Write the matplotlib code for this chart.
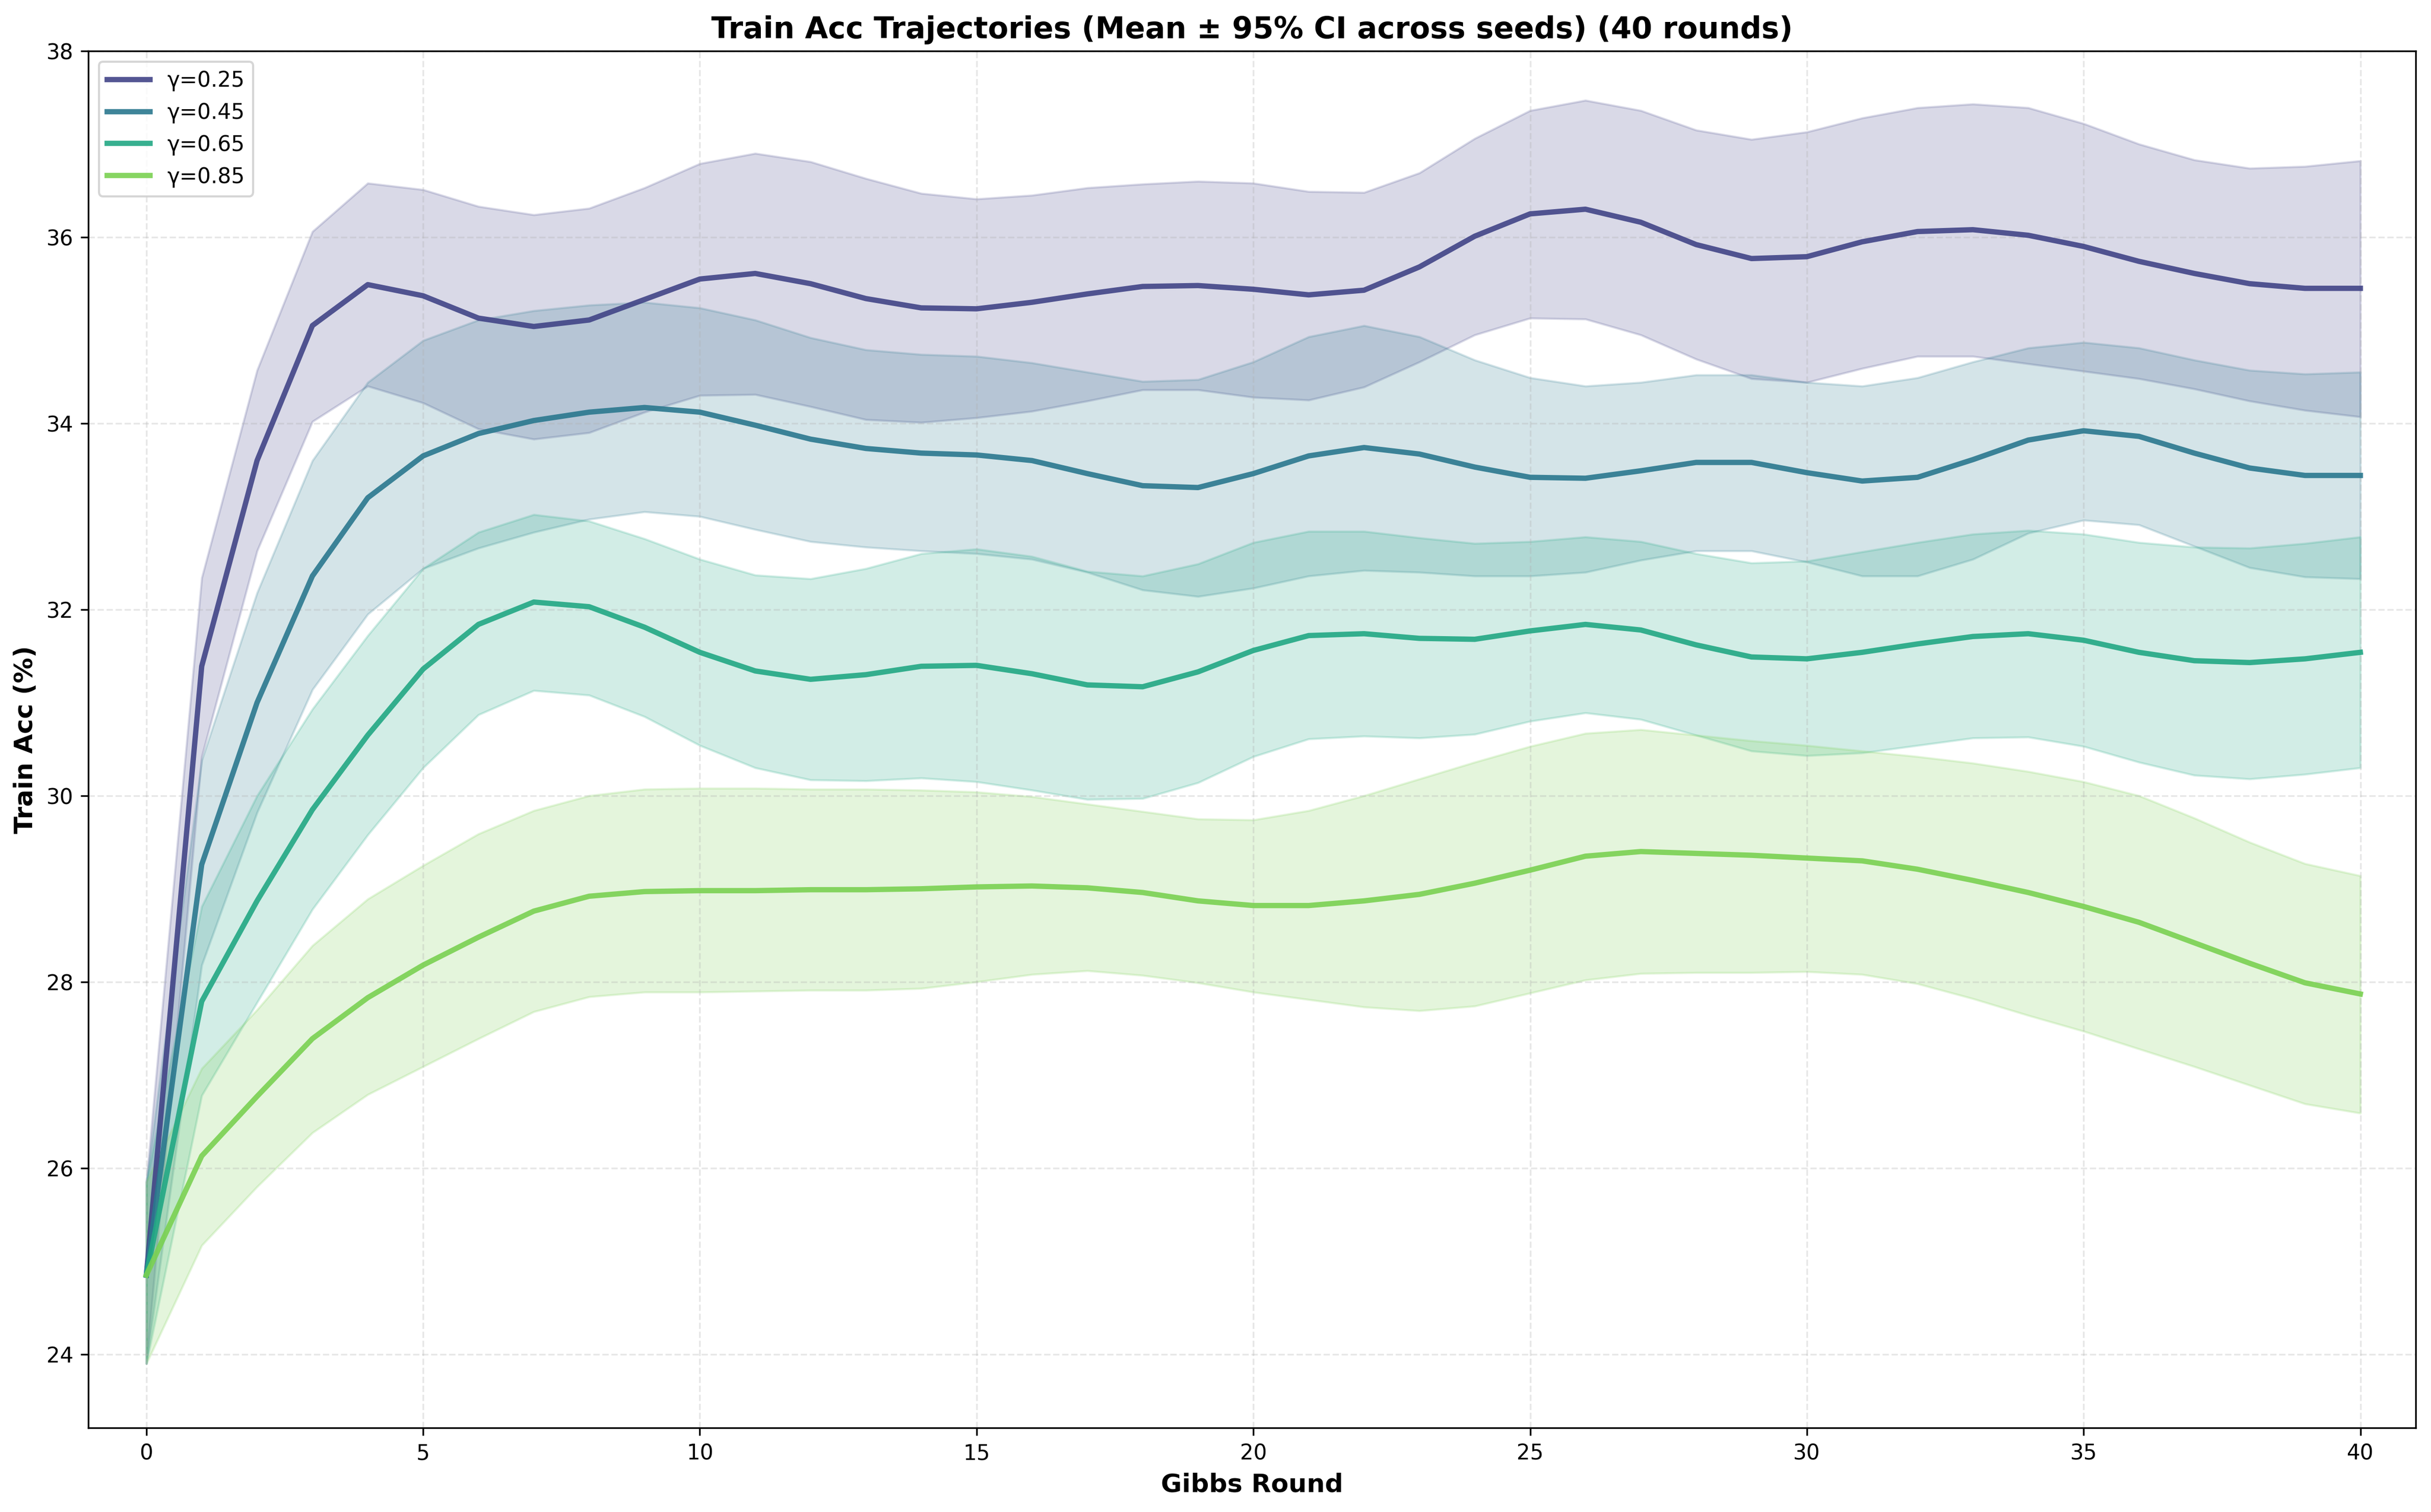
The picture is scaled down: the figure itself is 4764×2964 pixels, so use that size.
import numpy as np
import matplotlib
matplotlib.use("Agg")
import matplotlib.pyplot as plt

rounds = list(range(41))
gammas = ["γ=0.25", "γ=0.45", "γ=0.65", "γ=0.85"]

mean_025 = [24.85, 31.39, 33.60, 35.05, 35.49, 35.37, 35.13, 35.04, 35.11, 35.33,
            35.55, 35.61, 35.50, 35.34, 35.24, 35.23, 35.30, 35.39, 35.47, 35.48,
            35.44, 35.38, 35.43, 35.68, 36.01, 36.25, 36.30, 36.16, 35.92, 35.77,
            35.79, 35.95, 36.06, 36.08, 36.02, 35.90, 35.74, 35.61, 35.50, 35.45, 35.45]
upper_025 = [25.85, 32.34, 34.57, 36.06, 36.58, 36.51, 36.33, 36.24, 36.31, 36.53,
             36.79, 36.90, 36.81, 36.63, 36.47, 36.41, 36.45, 36.53, 36.57, 36.60,
             36.58, 36.49, 36.48, 36.69, 37.06, 37.36, 37.47, 37.36, 37.15, 37.05,
             37.13, 37.28, 37.39, 37.43, 37.39, 37.22, 37.00, 36.83, 36.74, 36.76, 36.82]
lower_025 = [23.90, 30.42, 32.63, 34.02, 34.40, 34.22, 33.94, 33.83, 33.90, 34.12,
             34.30, 34.31, 34.18, 34.04, 34.01, 34.06, 34.13, 34.24, 34.36, 34.36,
             34.28, 34.25, 34.39, 34.66, 34.95, 35.13, 35.12, 34.95, 34.69, 34.48,
             34.44, 34.59, 34.72, 34.72, 34.64, 34.56, 34.48, 34.37, 34.24, 34.14, 34.07]

mean_045 = [24.85, 29.26, 31.00, 32.36, 33.20, 33.65, 33.89, 34.03, 34.12, 34.17,
            34.12, 33.98, 33.83, 33.73, 33.68, 33.66, 33.60, 33.46, 33.33, 33.31,
            33.46, 33.65, 33.74, 33.67, 33.53, 33.42, 33.41, 33.49, 33.58, 33.58,
            33.47, 33.38, 33.42, 33.61, 33.82, 33.92, 33.86, 33.68, 33.52, 33.44, 33.44]
upper_045 = [25.85, 30.38, 32.18, 33.60, 34.44, 34.89, 35.11, 35.21, 35.27, 35.30,
             35.24, 35.11, 34.92, 34.79, 34.74, 34.72, 34.65, 34.55, 34.45, 34.47,
             34.66, 34.93, 35.05, 34.93, 34.68, 34.49, 34.40, 34.44, 34.52, 34.52,
             34.44, 34.40, 34.49, 34.66, 34.81, 34.87, 34.81, 34.68, 34.57, 34.53, 34.55]
lower_045 = [23.90, 28.18, 29.82, 31.14, 31.95, 32.44, 32.66, 32.83, 32.97, 33.05,
             33.00, 32.86, 32.73, 32.67, 32.63, 32.60, 32.54, 32.40, 32.21, 32.14,
             32.23, 32.36, 32.42, 32.40, 32.36, 32.36, 32.40, 32.53, 32.63, 32.63,
             32.51, 32.36, 32.36, 32.54, 32.82, 32.96, 32.91, 32.68, 32.45, 32.35, 32.33]

mean_065 = [24.85, 27.79, 28.87, 29.85, 30.65, 31.36, 31.84, 32.08, 32.03, 31.81,
            31.54, 31.34, 31.25, 31.30, 31.39, 31.40, 31.31, 31.19, 31.17, 31.33,
            31.56, 31.72, 31.74, 31.69, 31.68, 31.77, 31.84, 31.78, 31.62, 31.49,
            31.47, 31.54, 31.63, 31.71, 31.74, 31.67, 31.54, 31.45, 31.43, 31.47, 31.54]
upper_065 = [25.85, 28.81, 30.00, 30.93, 31.72, 32.44, 32.83, 33.02, 32.95, 32.76,
             32.54, 32.37, 32.33, 32.44, 32.60, 32.65, 32.57, 32.41, 32.36, 32.49,
             32.72, 32.84, 32.84, 32.77, 32.71, 32.73, 32.78, 32.73, 32.60, 32.50,
             32.52, 32.62, 32.72, 32.81, 32.85, 32.81, 32.72, 32.67, 32.66, 32.71, 32.78]
lower_065 = [23.90, 26.78, 27.78, 28.78, 29.58, 30.30, 30.87, 31.13, 31.08, 30.85,
             30.54, 30.30, 30.17, 30.16, 30.19, 30.15, 30.06, 29.96, 29.97, 30.14,
             30.42, 30.61, 30.64, 30.62, 30.66, 30.80, 30.89, 30.82, 30.65, 30.48,
             30.43, 30.46, 30.54, 30.62, 30.63, 30.53, 30.36, 30.22, 30.18, 30.23, 30.30]

mean_085 = [24.85, 26.13, 26.77, 27.39, 27.83, 28.18, 28.48, 28.76, 28.92, 28.97,
            28.98, 28.98, 28.99, 28.99, 29.00, 29.02, 29.03, 29.01, 28.96, 28.87,
            28.82, 28.82, 28.87, 28.94, 29.06, 29.20, 29.35, 29.40, 29.38, 29.36,
            29.33, 29.30, 29.21, 29.09, 28.96, 28.81, 28.64, 28.42, 28.20, 27.99, 27.87]
upper_085 = [25.85, 27.07, 27.70, 28.39, 28.89, 29.25, 29.59, 29.84, 30.00, 30.07,
             30.08, 30.08, 30.07, 30.07, 30.06, 30.04, 29.99, 29.91, 29.83, 29.75,
             29.74, 29.84, 30.00, 30.18, 30.36, 30.53, 30.67, 30.71, 30.65, 30.59,
             30.54, 30.48, 30.42, 30.35, 30.26, 30.15, 30.00, 29.76, 29.50, 29.27, 29.14]
lower_085 = [23.90, 25.17, 25.80, 26.38, 26.79, 27.09, 27.39, 27.68, 27.84, 27.89,
             27.89, 27.90, 27.91, 27.91, 27.93, 28.00, 28.08, 28.12, 28.07, 27.99,
             27.89, 27.81, 27.73, 27.69, 27.74, 27.88, 28.02, 28.09, 28.10, 28.10,
             28.11, 28.08, 27.98, 27.82, 27.64, 27.47, 27.28, 27.09, 26.89, 26.69, 26.59]

means = [mean_025, mean_045, mean_065, mean_085]
uppers = [upper_025, upper_045, upper_065, upper_085]
lowers = [lower_025, lower_045, lower_065, lower_085]

colors = plt.cm.viridis(np.linspace(0.2, 0.8, 4))

fig = plt.figure(figsize=(15.88, 9.88), dpi=300)
ax = fig.add_axes([0.0363, 0.0557, 0.9574, 0.9106])
for lab, m, u, l, c in zip(gammas, means, uppers, lowers, colors):
    ax.plot(rounds, m, color=c, lw=2.5, alpha=0.9, label=lab)
    ax.fill_between(rounds, l, u, color=c, alpha=0.2)

ax.set_xlim(-1.05, 41.0)
ax.set_ylim(23.21, 38.0)
ax.set_xticks([0, 5, 10, 15, 20, 25, 30, 35, 40])
ax.set_yticks([24, 26, 28, 30, 32, 34, 36, 38])
ax.grid(True, linestyle="--", alpha=0.3)
ax.set_xlabel("Gibbs Round", fontsize=12, fontweight="bold")
ax.set_ylabel("Train Acc (%)", fontsize=12, fontweight="bold")
ax.set_title("Train Acc Trajectories (Mean ± 95% CI across seeds) (40 rounds)",
             fontsize=14, fontweight="bold")
ax.legend(loc="upper left", fontsize=10)
fig.savefig("out.png", dpi=300)
